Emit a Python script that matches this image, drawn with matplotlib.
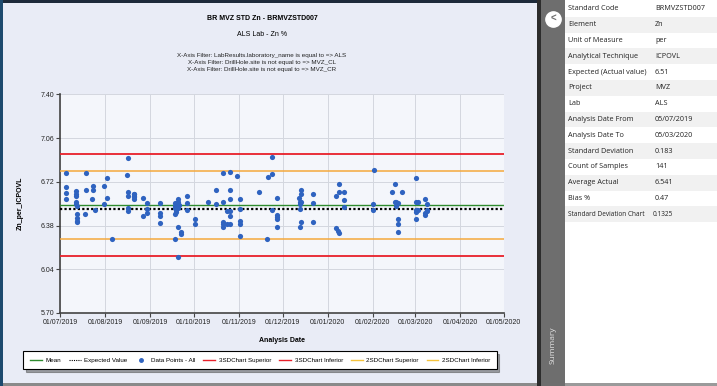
import numpy as np
import pandas as pd
import matplotlib
matplotlib.use('Agg')
import matplotlib.pyplot as plt
import matplotlib.dates as mdates
from matplotlib.lines import Line2D
from matplotlib.patches import Rectangle

# batches of analyses (date -> Zn % values)
batch_dates = ['2019-07-05', '2019-07-12', '2019-07-13', '2019-07-18', '2019-07-19',
               '2019-07-23', '2019-07-24', '2019-07-25', '2019-07-31', '2019-08-02',
               '2019-08-06', '2019-08-16', '2019-08-17', '2019-08-21', '2019-08-27',
               '2019-08-30', '2019-09-08', '2019-09-18', '2019-09-19', '2019-09-20',
               '2019-09-21', '2019-09-22', '2019-09-26', '2019-10-02', '2019-10-11',
               '2019-10-16', '2019-10-21', '2019-10-24', '2019-10-26', '2019-10-31',
               '2019-11-02', '2019-11-15', '2019-11-20', '2019-11-21', '2019-11-24',
               '2019-11-27', '2019-12-12', '2019-12-13', '2019-12-14', '2019-12-22',
               '2020-01-07', '2020-01-08', '2020-01-09', '2020-01-12', '2020-02-01',
               '2020-02-02', '2020-02-14', '2020-02-16', '2020-02-17', '2020-02-18',
               '2020-02-21', '2020-03-02', '2020-03-03', '2020-03-08', '2020-03-09']
batch_values = [[6.790, 6.676, 6.630, 6.585],
                [6.609, 6.626, 6.645, 6.564, 6.546],
                [6.528, 6.468, 6.435, 6.414, 6.406],
                [6.471],
                [6.790, 6.658],
                [6.583],
                [6.686, 6.658],
                [6.504],
                [6.686, 6.544],
                [6.749, 6.595],
                [6.276],
                [6.770],
                [6.902, 6.642, 6.609, 6.518, 6.492],
                [6.624, 6.622, 6.598, 6.588, 6.609],
                [6.595, 6.451],
                [6.552, 6.505, 6.479],
                [6.552, 6.474, 6.453, 6.398],
                [6.552, 6.533, 6.513, 6.471, 6.276],
                [6.484, 6.497],
                [6.585, 6.560, 6.539, 6.513, 6.370, 6.134],
                [6.539],
                [6.326, 6.311],
                [6.606, 6.554, 6.502],
                [6.430, 6.391],
                [6.564],
                [6.658, 6.544],
                [6.790, 6.564, 6.409, 6.388, 6.370],
                [6.494, 6.391],
                [6.798, 6.658, 6.585, 6.494, 6.453, 6.391],
                [6.762],
                [6.585, 6.505, 6.414, 6.393, 6.300],
                [6.637],
                [6.276],
                [6.760],
                [6.910, 6.780, 6.504],
                [6.595, 6.465, 6.445, 6.430, 6.370],
                [6.595],
                [6.560, 6.544, 6.507, 6.370],
                [6.658, 6.626, 6.564, 6.409],
                [6.626, 6.554, 6.409],
                [6.606, 6.360],
                [6.340],
                [6.700, 6.638, 6.318],
                [6.637, 6.575, 6.523],
                [6.544, 6.504],
                [6.811],
                [6.637],
                [6.700, 6.564],
                [6.560, 6.533],
                [6.552, 6.430, 6.389, 6.327],
                [6.637],
                [6.749, 6.564, 6.504, 6.482, 6.430],
                [6.564, 6.504],
                [6.585, 6.479, 6.461],
                [6.545, 6.504, 6.492]]

expected_value = 6.51
average_actual = 6.541
sd_chart = 0.1325

y_ticks = [5.70, 6.04, 6.38, 6.72, 7.06, 7.40]

summary_labels = ['Standard Code', 'Element', 'Unit of Measure', 'Analytical Technique',
                  'Expected (Actual value)', 'Project', 'Lab', 'Analysis Date From',
                  'Analysis Date To', 'Standard Deviation', 'Count of Samples',
                  'Average Actual', 'Bias %', 'Standard Deviation Chart']
summary_values = ['BRMVZSTD007', 'Zn', 'per', 'ICPOVL', '6.51', 'MVZ', 'ALS',
                  '05/07/2019', '05/03/2020', '0.183', '141', '6.541', '0.47', '0.1325']

dates = []
zn = []
for d, vals in zip(batch_dates, batch_values):
    for v in vals:
        dates.append(d)
        zn.append(v)
dates = pd.to_datetime(dates)

W, H = 717, 386
plt.rcParams['font.family'] = ['Liberation Sans', 'DejaVu Sans']
fig = plt.figure(figsize=(W / 100, H / 100), dpi=100)
fig.patch.set_facecolor('#e9ecf6')


def px(x, y):
    return x / W, 1 - y / H


def box(x0, y0, x1, y1, color, **kw):
    fx, fy = px(x0, y1)
    fig.add_artist(Rectangle((fx, fy), (x1 - x0) / W, (y1 - y0) / H,
                             transform=fig.transFigure, facecolor=color,
                             edgecolor=kw.pop('ec', 'none'), lw=kw.pop('lw', 0), **kw))


# frame pieces
box(0, 0, 540, 3, '#1d2a3a')
box(0, 0, 3, 386, '#1d4a6e')
box(3, 383, 540, 386, '#8a8a8a')
box(537, 0, 541, 386, '#2c2c2c')
box(541, 0, 565, 386, '#6e6e6e')
box(565, 0, 717, 386, 'white')
box(565, 383, 717, 386, '#9a9a9a')

# titles
fx, _ = px(262, 0)
fig.text(fx, px(0, 18)[1], 'BR MVZ STD Zn - BRMVZSTD007', ha='center', va='center',
         fontsize=5, fontweight='bold')
fig.text(fx, px(0, 35)[1], 'ALS Lab - Zn %', ha='center', va='center', fontsize=5)
filters = ['X-Axis Filter: LabResults.laboratory_name is equal to => ALS',
           'X-Axis Filter: DrillHole.site is not equal to => MVZ_CL',
           'X-Axis Filter: DrillHole.site is not equal to => MVZ_CR']
for i, t in enumerate(filters):
    fig.text(fx, px(0, 55 + i * 7.5)[1], t, ha='center', va='center', fontsize=4.5,
             color='#222222')

# chart
l, t = px(60, 94.3)
r, b = px(503.7, 313)
ax = fig.add_axes([l, b, r - l, t - b])
ax.set_facecolor('#f4f6fb')

ax.scatter(dates, zn, s=14, color='#2f63c0', zorder=4, linewidths=0)
ax.axhline(average_actual, color='#2e8b2e', lw=1, zorder=3)
ax.axhline(expected_value, color='black', lw=1.6, ls=(0, (1, 1)), zorder=3)
ax.axhline(average_actual + 3 * sd_chart, color='#e8202a', lw=1.3, zorder=3)
ax.axhline(average_actual - 3 * sd_chart, color='#e8202a', lw=1.3, zorder=3)
ax.axhline(average_actual + 2 * sd_chart, color='#f5a93c', lw=1.1, zorder=3)
ax.axhline(average_actual - 2 * sd_chart, color='#f5a93c', lw=1.1, zorder=3)

ax.set_xlim(pd.Timestamp('2019-07-01'), pd.Timestamp('2020-05-01'))
ax.set_ylim(5.70, 7.40)
ax.set_yticks(y_ticks)
ax.yaxis.set_major_formatter(matplotlib.ticker.FormatStrFormatter('%.2f'))
ax.xaxis.set_major_locator(mdates.MonthLocator())
ax.xaxis.set_major_formatter(mdates.DateFormatter('%d/%m/%Y'))
ax.tick_params(labelsize=5, length=3, width=0.8, color='#444444', pad=1, labelcolor='#222222')
ax.grid(True, color='#d3d7df', lw=0.7, zorder=0)
for s in ['top', 'right']:
    ax.spines[s].set_visible(False)
for s in ['left', 'bottom']:
    ax.spines[s].set_color('#444444')
    ax.spines[s].set_linewidth(1.2)
ax.set_xlabel('Analysis Date', fontsize=5, fontweight='bold', labelpad=8)
ax.set_ylabel('Zn_per_ICPOVL', fontsize=5, fontweight='bold', labelpad=12)

handles = [Line2D([], [], color='#2e8b2e', lw=1),
           Line2D([], [], color='black', lw=0.8, ls=(0, (1, 1))),
           Line2D([], [], color='#2f63c0', ls='none', marker='o', ms=2.5),
           Line2D([], [], color='#e8202a', lw=1),
           Line2D([], [], color='#e8202a', lw=1),
           Line2D([], [], color='#f5c33c', lw=1),
           Line2D([], [], color='#f5c33c', lw=1)]
labels = ['Mean', 'Expected Value', 'Data Points - All', '3SDChart Superior',
          '3SDChart Inferior', '2SDChart Superior', '2SDChart Inferior']
leg = fig.legend(handles, labels, loc='center', bbox_to_anchor=px(260, 360), ncol=7,
                 fontsize=4.5, frameon=True, fancybox=False, shadow=True,
                 handlelength=1.9, columnspacing=1.25, handletextpad=0.6,
                 borderpad=1.0)
leg.get_frame().set_edgecolor('black')
leg.get_frame().set_linewidth(0.8)

# summary side panel
fig.add_artist(Line2D([px(553, 0)[0]], [px(0, 19)[1]], marker='o', ms=11,
                      mfc='white', mec='white', transform=fig.transFigure))
fig.text(px(553, 0)[0], px(0, 19)[1], '<', ha='center', va='center', fontsize=7,
         fontweight='bold', color='#6e6e6e')
fig.text(px(553, 0)[0], px(0, 345)[1], 'Summary', rotation=90, ha='center', va='center',
         fontsize=6, color='#e0e0e0', family=['Open Sans', 'DejaVu Sans'])

row_h = 15.8
for i, (lab, val) in enumerate(zip(summary_labels, summary_values)):
    y0 = 1 + i * row_h
    if i % 2 == 1 or i == len(summary_labels) - 1:
        box(565, y0, 717, y0 + row_h, '#f1f1f1')
    cy = px(0, y0 + row_h / 2)[1]
    fs = 5.2 if i < len(summary_labels) - 1 else 4.7
    fig.text(px(568, 0)[0], cy, lab, ha='left', va='center', fontsize=fs,
             color='#222222', family=['Open Sans', 'DejaVu Sans'])
    vx = 655 if i < len(summary_labels) - 1 else 653
    fig.text(px(vx, 0)[0], cy, val, ha='left', va='center', fontsize=fs,
             color='#222222', family=['Open Sans', 'DejaVu Sans'])

fig.savefig('out.png', dpi=100, facecolor=fig.get_facecolor())
